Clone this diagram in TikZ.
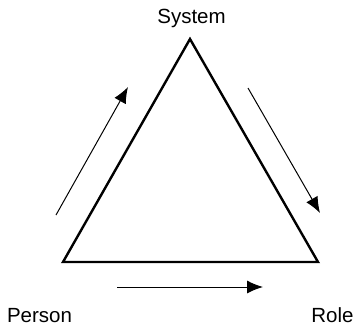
\documentclass[tikz,border=0pt]{standalone}
\usepackage{fontspec}
\setmainfont{Liberation Sans}
\usetikzlibrary{arrows.meta,positioning}

\begin{document}
\begin{tikzpicture}[x=1pt, y=1pt, every node/.style={font=\fontsize{20.5}{24}\selectfont},
  corner/.style={inner sep=0pt, anchor=base},
  side/.style={line width=2.4pt, line join=miter},
  flow/.style={-{Latex[length=16pt, width=13pt]}, line width=1pt}]
\useasboundingbox (0,0) rectangle (355,325);
% Triangle
\coordinate (sys) at (190,286);
\coordinate (per) at (63,63);
\coordinate (rol) at (318,63);
\draw[side] (per) -- (sys) -- (rol) -- cycle;
% Labels
\node[corner] (lsys) at (191.5,302) {System};
\node[corner] (lper) at (39.5,3) {Person};
\node[corner] (lrol) at (332.5,3) {Role};
% Arrows
\coordinate (a1) at (56,110);  \coordinate (b1) at (128,238);
\coordinate (a2) at (248,237); \coordinate (b2) at (320,112);
\coordinate (a3) at (117,38);  \coordinate (b3) at (263,38);
\foreach \a/\b in {a1/b1, a2/b2, a3/b3} {
  \draw[flow] (\a) -- (\b);
}
\end{tikzpicture}
\end{document}
